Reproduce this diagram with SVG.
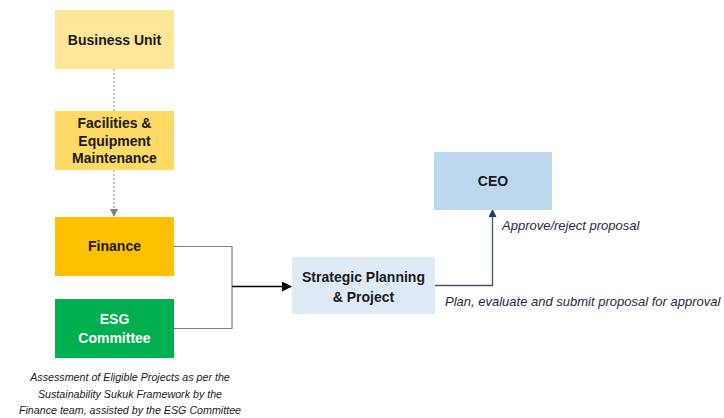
<svg xmlns="http://www.w3.org/2000/svg" width="724" height="418" viewBox="0 0 724 418">
<defs>
<style>
.lbl{font-family:"Liberation Sans",Arial,sans-serif;font-weight:bold;font-size:14px;fill:#1a1a1a;text-anchor:middle}
.wht{fill:#ffffff}
.it{font-family:"Liberation Sans",Arial,sans-serif;font-style:italic;fill:#1f2a44}
.cap{font-family:"Liberation Sans",Arial,sans-serif;font-style:italic;font-size:10.7px;fill:#1a1a1a;text-anchor:middle}
.gray{fill:none;stroke:#7f7f7f;stroke-width:1.2}
.dash{fill:none;stroke:#8c8c8c;stroke-width:1;stroke-dasharray:2,2}
</style>
<marker id="ahGray" markerWidth="8" markerHeight="8" refX="7" refY="4" orient="auto" markerUnits="userSpaceOnUse">
<path d="M0,0 L8,4 L0,8 Z" fill="#7f7f7f"/>
</marker>
<marker id="ahBlack" markerWidth="10" markerHeight="10" refX="9" refY="5" orient="auto" markerUnits="userSpaceOnUse">
<path d="M0,0 L10,5 L0,10 Z" fill="#000000"/>
</marker>
<marker id="ahNavy" markerWidth="8" markerHeight="8" refX="7" refY="4" orient="auto" markerUnits="userSpaceOnUse">
<path d="M0,0 L8,4 L0,8 Z" fill="#1f3864"/>
</marker>
</defs>
<rect width="724" height="418" fill="#ffffff"/>
<g id="connectors">
<line class="dash" x1="114" y1="69" x2="114" y2="111"/>
<line class="dash" x1="114" y1="170" x2="114" y2="216" marker-end="url(#ahGray)"/>
<polyline class="gray" points="174,246.5 232,246.5 232,328.5 174,328.5"/>
<line x1="232" y1="286.5" x2="291" y2="286.5" stroke="#000000" stroke-width="1.5" marker-end="url(#ahBlack)"/>
<polyline points="435,285.5 492.5,285.5 492.5,210" fill="none" stroke="#44546a" stroke-width="1.3" marker-end="url(#ahNavy)"/>
</g>
<g id="business-unit">
<rect x="55" y="10" width="119" height="59" fill="#ffe699"/>
<text class="lbl" x="114.5" y="44.5">Business Unit</text>
</g>
<g id="facilities">
<rect x="55" y="111" width="119" height="59" fill="#ffd966"/>
<text class="lbl" x="114.5" y="128">Facilities &amp;</text>
<text class="lbl" x="114.5" y="145.5">Equipment</text>
<text class="lbl" x="114.5" y="163">Maintenance</text>
</g>
<g id="finance">
<rect x="55" y="217" width="119" height="59" fill="#ffc000"/>
<text class="lbl" x="114.5" y="251">Finance</text>
</g>
<g id="esg">
<rect x="55" y="299" width="119" height="59" fill="#00b050"/>
<text class="lbl wht" x="114.5" y="324">ESG</text>
<text class="lbl wht" x="114.5" y="343">Committee</text>
</g>
<g id="strategic">
<rect x="292" y="257" width="143" height="57" fill="#deebf7"/>
<text class="lbl" x="363.5" y="281.5">Strategic Planning</text>
<text class="lbl" x="363.5" y="301.5">&amp; Project</text>
</g>
<g id="ceo">
<rect x="434" y="152" width="118" height="58" fill="#bdd7ee"/>
<text class="lbl" x="493" y="186">CEO</text>
</g>
<g id="labels">
<text class="it" x="502" y="230" font-size="13">Approve/reject proposal</text>
<text class="it" x="445" y="306" font-size="13">Plan, evaluate and submit proposal for approval</text>
<text class="cap" x="130" y="381">Assessment of Eligible Projects as per the</text>
<text class="cap" x="130" y="398">Sustainability Sukuk Framework by the</text>
<text class="cap" x="130" y="414">Finance team, assisted by the ESG Committee</text>
</g>
</svg>
